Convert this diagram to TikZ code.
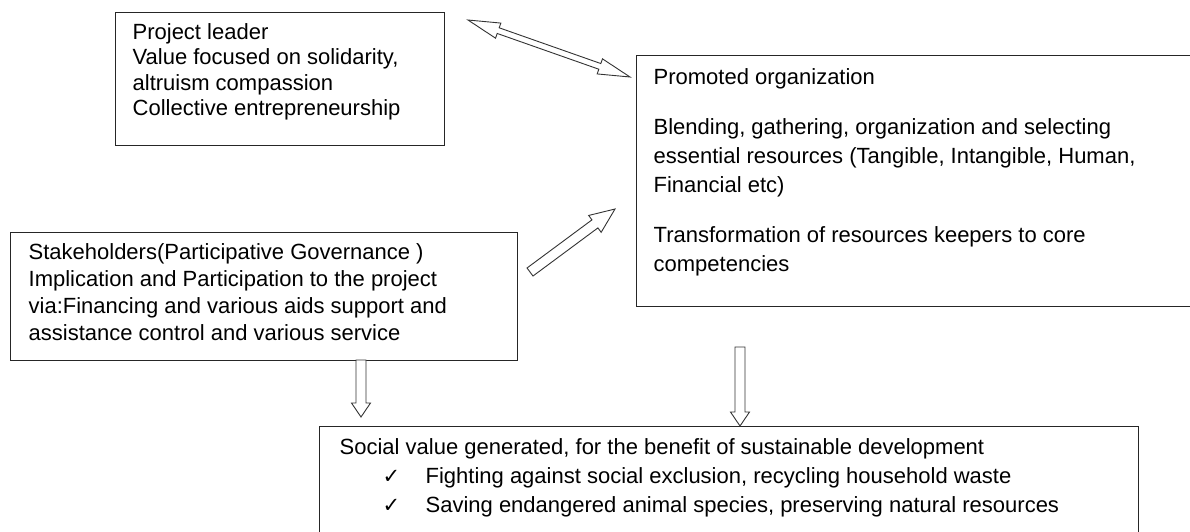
\documentclass[tikz,border=0pt]{standalone}
\usepackage{fontspec}
\setmainfont{Liberation Sans}
\newfontfamily\checkfont{DejaVu Sans}
\usetikzlibrary{calc}

% text set inside a box: #1 left padding, #2 line spacing, #3 first baseline below the top
\newcommand\boxtext[3]{\fontsize{22}{#2}\selectfont\raggedright\leftskip=#1\relax\rule{0pt}{#3}}
% tick mark at the start of a list line
\newcommand\tickitem{\makebox[86pt][l]{\hspace*{43pt}{\checkfont\fontsize{21}{21}\selectfont ✓}}}

% hollow block arrow: tail, tip, shaft half width, head half width, head length
\newcommand\blockarrow[5]{%
  \coordinate (ba-h) at ($(#2)!#5!(#1)$);
  \draw[hollowarrow] ($(#1)!#3!90:(#2)$) -- ($(ba-h)!#3!90:(#2)$) -- ($(ba-h)!#4!90:(#2)$)
    -- (#2) -- ($(ba-h)!#4!-90:(#2)$) -- ($(ba-h)!#3!-90:(#2)$) -- ($(#1)!#3!-90:(#2)$) -- cycle;
}
% hollow block arrow with a head at both ends
\newcommand\doubleblockarrow[5]{%
  \coordinate (da-a) at ($(#1)!#5!(#2)$);
  \coordinate (da-b) at ($(#2)!#5!(#1)$);
  \draw[hollowarrow] (#1) -- ($(da-a)!#4!90:(#2)$) -- ($(da-a)!#3!90:(#2)$)
    -- ($(da-b)!#3!-90:(#1)$) -- ($(da-b)!#4!-90:(#1)$) -- (#2)
    -- ($(da-b)!#4!90:(#1)$) -- ($(da-b)!#3!90:(#1)$)
    -- ($(da-a)!#3!-90:(#2)$) -- ($(da-a)!#4!-90:(#2)$) -- cycle;
}

\tikzset{
  box/.style={draw=black!85, line width=1.3pt, inner sep=0pt, anchor=north west, fill=white},
  hollowarrow/.style={draw=black!80, line width=0.9pt, fill=white, line join=miter},
}

\begin{document}
\begin{tikzpicture}[x=1pt,y=-1pt]
\useasboundingbox (0,0) rectangle (1190,531);
\clip (0,0) rectangle (1190,531);
\fill[white] (0,0) rectangle (1190,531);

% boxes
\node[box] (pl) at (115,12) {\parbox[c][133pt][t]{329pt}{\boxtext{17pt}{25.5pt}{26.5pt}Project leader\\Value focused on solidarity,\\altruism compassion\\Collective entrepreneurship}};

\node[box] (po) at (636,55) {\parbox[c][251pt][t]{564pt}{\boxtext{17pt}{29pt}{28.5pt}Promoted organization\\[21pt]Blending, gathering, organization and selecting\\essential resources (Tangible, Intangible, Human,\\Financial etc)\\[21pt]Transformation of resources keepers to core\\competencies}};

\node[box] (sh) at (10,232) {\parbox[c][128pt][t]{507pt}{\boxtext{18pt}{27pt}{27pt}Stakeholders(Participative Governance )\\Implication and Participation to the project\\via:Financing and various aids support and\\assistance control and various service}};

\node[box] (sv) at (319,426) {\parbox[c][140pt][t]{819pt}{\boxtext{20pt}{29pt}{27.5pt}Social value generated, for the benefit of sustainable development\\\tickitem Fighting against social exclusion, recycling household waste\\\tickitem Saving endangered animal species, preserving natural resources}};

% arrow end points
\coordinate (lead-end) at (468,20);
\coordinate (org-end) at (630,77);
\coordinate (stake-tail) at (530,272);
\coordinate (stake-tip) at (615,209);
\coordinate (stake-down) at (361,360);
\coordinate (stake-value) at (361,417);
\coordinate (org-down) at (740,347);
\coordinate (org-value) at (740,426);

% arrows
\doubleblockarrow{lead-end}{org-end}{3pt}{8pt}{32pt}
\blockarrow{stake-tail}{stake-tip}{5pt}{10.5pt}{25pt}
\blockarrow{stake-down}{stake-value}{5pt}{9.5pt}{14pt}
\blockarrow{org-down}{org-value}{5pt}{9.5pt}{14pt}
\end{tikzpicture}
\end{document}
